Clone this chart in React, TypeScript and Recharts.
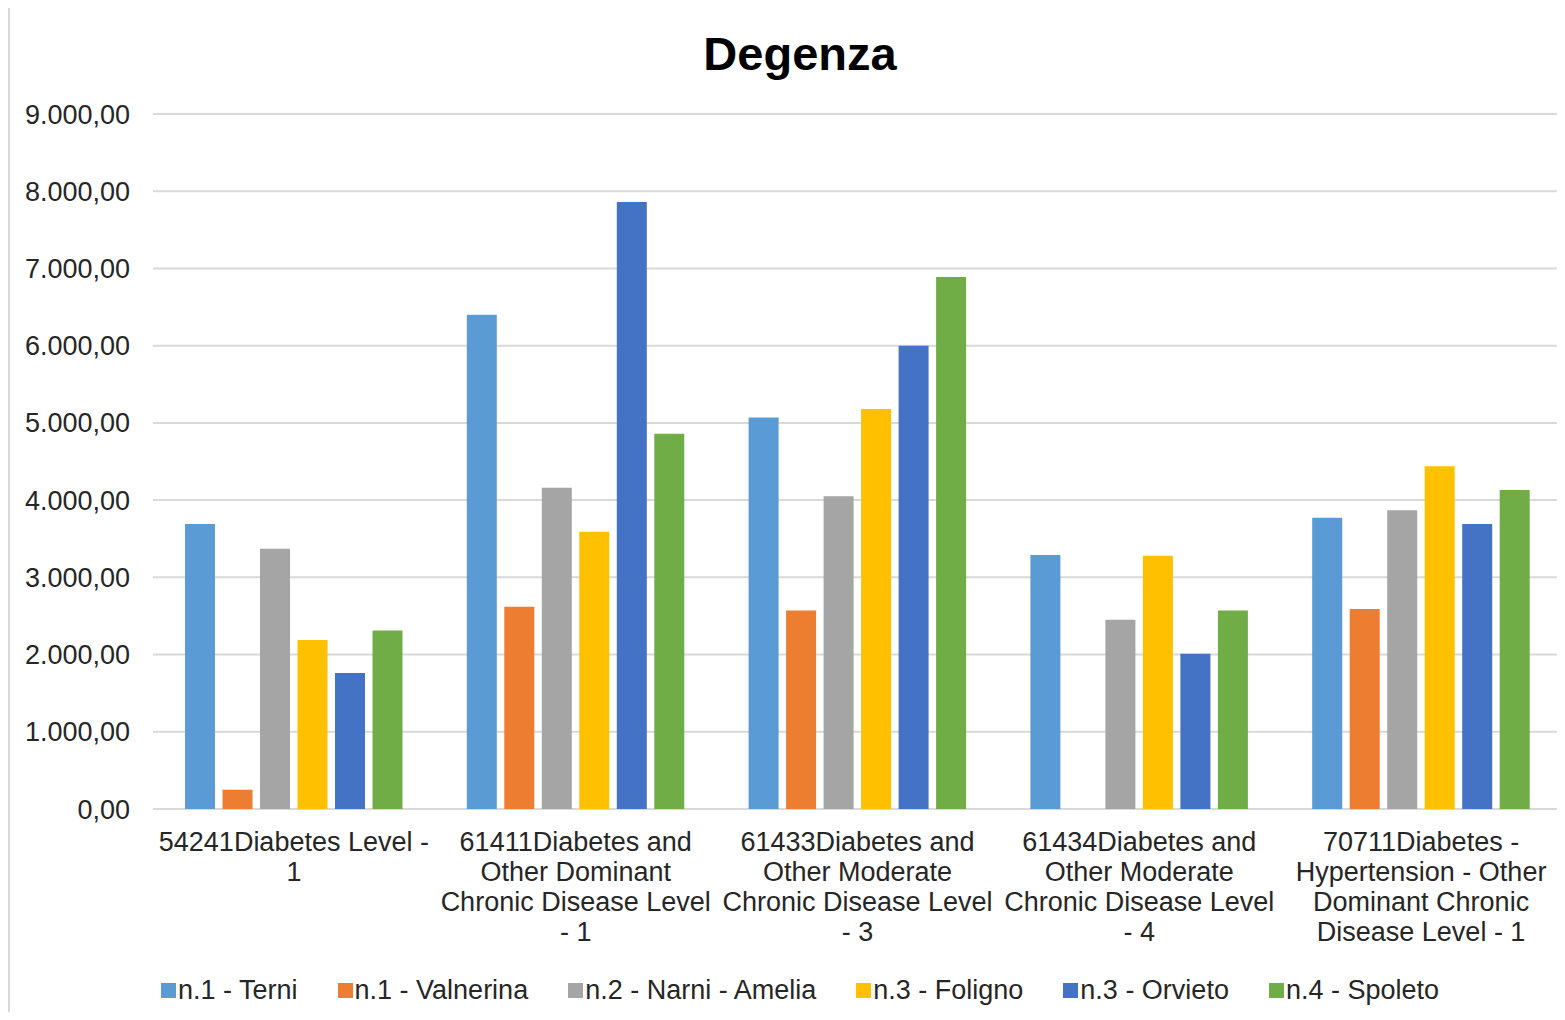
import React from 'react';
import { BarChart, Bar, XAxis, YAxis, CartesianGrid, Legend } from 'recharts';

// category labels, line breaks as in the original axis
const categories = [
  '54241Diabetes Level -\n1',
  '61411Diabetes and\nOther Dominant\nChronic Disease Level\n- 1',
  '61433Diabetes and\nOther Moderate\nChronic Disease Level\n- 3',
  '61434Diabetes and\nOther Moderate\nChronic Disease Level\n- 4',
  '70711Diabetes -\nHypertension - Other\nDominant Chronic\nDisease Level - 1',
];

const terni = [3690, 6400, 5070, 3290, 3770];
const valnerina = [250, 2620, 2570, 0, 2590];
const narniAmelia = [3370, 4160, 4050, 2450, 3870];
const foligno = [2190, 3590, 5180, 3280, 4440];
const orvieto = [1760, 7860, 6000, 2010, 3690];
const spoleto = [2310, 4860, 6890, 2570, 4130];

const seriesNames = [
  'n.1 - Terni',
  'n.1 - Valnerina',
  'n.2 - Narni - Amelia',
  'n.3 - Foligno',
  'n.3 - Orvieto',
  'n.4 - Spoleto',
];
const seriesColors = ['#5B9BD5', '#ED7D31', '#A5A5A5', '#FFC000', '#4472C4', '#70AD47'];
const seriesValues = [terni, valnerina, narniAmelia, foligno, orvieto, spoleto];

const yTicks = [0, 1000, 2000, 3000, 4000, 5000, 6000, 7000, 8000, 9000];

const data = categories.map((name, i) => {
  const row: Record<string, string | number> = { name };
  seriesNames.forEach((s, j) => {
    row[s] = seriesValues[j][i];
  });
  return row;
});

const FONT = '"Liberation Sans", Arial, sans-serif';
const TEXT = '#262626';

// 9000 -> "9.000,00"
const formatIt = (v: number) => {
  const [int, dec] = v.toFixed(2).split('.');
  return int.replace(/\B(?=(\d{3})+(?!\d))/g, '.') + ',' + dec;
};

const CategoryTick = ({ x, y, payload }: any) => {
  const lines = String(payload.value).split('\n');
  return (
    <text x={x} y={y} textAnchor="middle" fill={TEXT} fontSize={27} fontFamily={FONT}>
      {lines.map((line, i) => (
        <tspan key={i} x={x} y={y + 42 + i * 30}>
          {line}
        </tspan>
      ))}
    </text>
  );
};

const LegendContent = () => (
  <div
    style={{
      display: 'flex',
      justifyContent: 'center',
      alignItems: 'center',
      gap: 40,
      height: 30,
      fontFamily: FONT,
    }}
  >
    {seriesNames.map((name, i) => (
      <div key={name} style={{ display: 'flex', alignItems: 'center' }}>
        <span style={{ width: 15, height: 15, background: seriesColors[i], marginRight: 2 }} />
        <span style={{ fontSize: 27, lineHeight: '30px', color: TEXT, whiteSpace: 'nowrap' }}>{name}</span>
      </div>
    ))}
  </div>
);

export default function App() {
  return (
    <div
      style={{
        position: 'relative',
        width: 1557,
        height: 1007,
        marginTop: -3,
        boxSizing: 'border-box',
        borderTop: '2px solid #d9d9d9',
        borderLeft: '2px solid #d9d9d9',
        overflow: 'hidden',
        background: '#fff',
      }}
    >
      <div
        style={{
          position: 'absolute',
          top: 23,
          left: 0,
          width: 1580,
          textAlign: 'center',
          fontFamily: FONT,
          fontWeight: 'bold',
          fontSize: 47,
          lineHeight: '47px',
          color: '#000',
          zIndex: 1,
        }}
      >
        Degenza
      </div>
      <BarChart
        width={1555}
        height={1005}
        data={data}
        margin={{ top: 107, right: 3, bottom: 7, left: 0 }}
        barCategoryGap={32}
        barGap={7.5}
      >
        <CartesianGrid vertical={false} stroke="#d9d9d9" strokeWidth={2} />
        <XAxis
          dataKey="name"
          interval={0}
          height={166}
          axisLine={false}
          tickLine={false}
          tickSize={0}
          tickMargin={0}
          tick={<CategoryTick />}
        />
        <YAxis
          width={143}
          domain={[0, 9000]}
          ticks={yTicks}
          tickFormatter={formatIt}
          axisLine={false}
          tickLine={false}
          tickSize={0}
          tickMargin={23}
          tick={{ fill: TEXT, fontSize: 27, fontFamily: FONT }}
        />
        <Legend
          verticalAlign="bottom"
          content={<LegendContent />}
          wrapperStyle={{ left: 0, width: 1580, height: 30 }}
        />
        {seriesNames.map((s, i) => (
          <Bar key={s} dataKey={s} fill={seriesColors[i]} isAnimationActive={false} />
        ))}
      </BarChart>
    </div>
  );
}
